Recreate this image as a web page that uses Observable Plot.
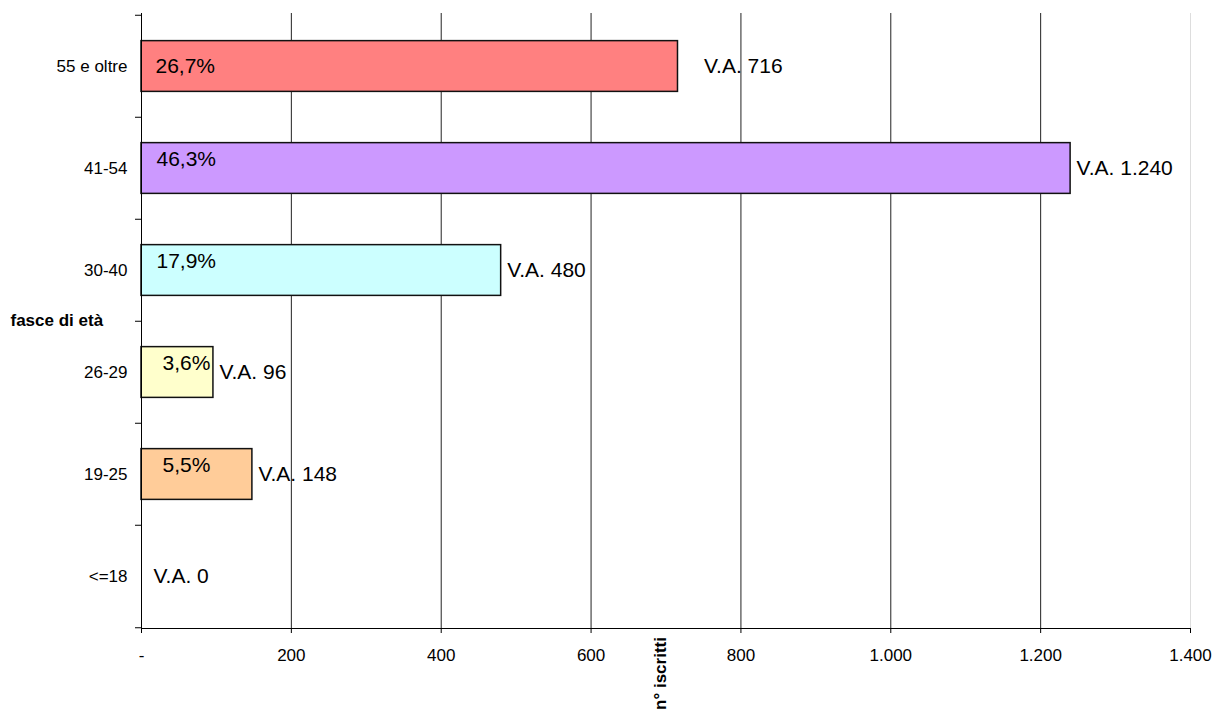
<!DOCTYPE html>
<html>
<head>
<meta charset="utf-8">
<script src="https://cdn.jsdelivr.net/npm/d3@7"></script>
<script src="https://cdn.jsdelivr.net/npm/@observablehq/plot@0.6"></script>
<style>
  html, body { margin: 0; padding: 0; background: #fff; }
  svg { font-family: "Liberation Sans", Arial, sans-serif; }
</style>
</head>
<body>
<div id="chart"></div>
<script>
// ---- data ----
const categories = ["<=18", "19-25", "26-29", "30-40", "41-54", "55 e oltre"];
const values = [0, 148, 96, 480, 1240, 716];
const percents = [0, 5.5, 3.6, 17.9, 46.3, 26.7];
const colors = ["#FFFFFF", "#FFCC99", "#FFFFCC", "#CCFFFF", "#CC99FF", "#FF8080"];
const xTicks = [0, 200, 400, 600, 800, 1000, 1200, 1400];
const yTitle = "fasce di età";
const xTitle = "n° iscritti";

const data = categories.map((c, i) => ({cat: c, value: values[i], pct: percents[i], color: colors[i]}));

const itLocale = d3.formatLocale({decimal: ",", thousands: ".", grouping: [3], currency: ["€", ""]});
const fmtInt = itLocale.format(",d");
const fmtPct = itLocale.format(".1f");
const vaLabel = d => "V.A. " + fmtInt(d.value);
const pctLabel = d => fmtPct(d.pct) + "%";

const topCat = categories[categories.length - 1];
const domainY = categories.slice().reverse();
const H = 711, mTop = 13, mBottom = 83;
const half = (H - mTop - mBottom) / categories.length / 2;

const font = "Liberation Sans, Arial, sans-serif";

const chart = Plot.plot({
  width: 1217,
  height: H,
  marginLeft: 141,
  marginRight: 27,
  marginTop: mTop,
  marginBottom: mBottom,
  style: {fontFamily: font, background: "#fff", color: "#000"},
  x: {domain: [0, 1400], label: null},
  y: {domain: domainY, padding: 0, label: null},
  marks: [
    Plot.gridX({ticks: xTicks.filter(t => t > 0 && t < 1400), stroke: "#222", strokeOpacity: 1}),
    Plot.ruleX([1400], {stroke: "#ddd"}),
    Plot.barX(data.filter(d => d.value > 0), {
      x: "value", y: "cat", fill: "color", stroke: "#111", strokeWidth: 1.5,
      insetTop: half / 2, insetBottom: half / 2
    }),
    Plot.ruleX([0], {stroke: "#000"}),
    Plot.frame({anchor: "bottom", stroke: "#000"}),
    // category boundary ticks on the y axis
    Plot.axisY({ticks: domainY, tickFormat: () => "", tickSize: 6, dy: -half, stroke: "#000"}),
    Plot.axisY({ticks: [categories[0]], tickFormat: () => "", tickSize: 6, dy: half, stroke: "#000"}),
    // category labels
    Plot.axisY({ticks: domainY, tickSize: 0, tickPadding: 14, fontSize: 17, fill: "#000"}),
    // x axis
    Plot.axisX({ticks: xTicks, tickSize: 5, tickPadding: 15, fontSize: 17, fill: "#000", stroke: "#000",
      tickFormat: d => d === 0 ? "-" : fmtInt(d), label: null}),
    // axis titles
    Plot.text([yTitle], {frameAnchor: "left", dx: -131, textAnchor: "start", fontWeight: "bold", fontSize: 17, fill: "#000"}),
    Plot.text([xTitle], {frameAnchor: "bottom", dy: 45, rotate: -90, textAnchor: "middle", fontWeight: "bold", fontSize: 17, fill: "#000"}),
    // percent labels
    Plot.text(data.filter(d => d.cat === topCat), {x: 0, y: "cat", text: pctLabel, dx: 14, textAnchor: "start", fontSize: 21, fill: "#000"}),
    Plot.text(data.filter(d => d.cat !== topCat && d.value >= 400), {x: 0, y: "cat", text: pctLabel, dx: 15, dy: -9, textAnchor: "start", fontSize: 21, fill: "#000"}),
    Plot.text(data.filter(d => d.value > 0 && d.value < 400), {x: 0, y: "cat", text: pctLabel, dx: 21, dy: -9, textAnchor: "start", fontSize: 21, fill: "#000"}),
    // V.A. labels
    Plot.text(data.filter(d => d.cat === topCat), {x: "value", y: "cat", text: vaLabel, dx: 26, textAnchor: "start", fontSize: 21, fill: "#000"}),
    Plot.text(data.filter(d => d.cat !== topCat && d.value > 0), {x: "value", y: "cat", text: vaLabel, dx: 6, textAnchor: "start", fontSize: 21, fill: "#000"}),
    Plot.text(data.filter(d => d.value === 0), {x: "value", y: "cat", text: vaLabel, dx: 12, textAnchor: "start", fontSize: 21, fill: "#000"})
  ]
});
document.getElementById("chart").appendChild(chart);
</script>
</body>
</html>
